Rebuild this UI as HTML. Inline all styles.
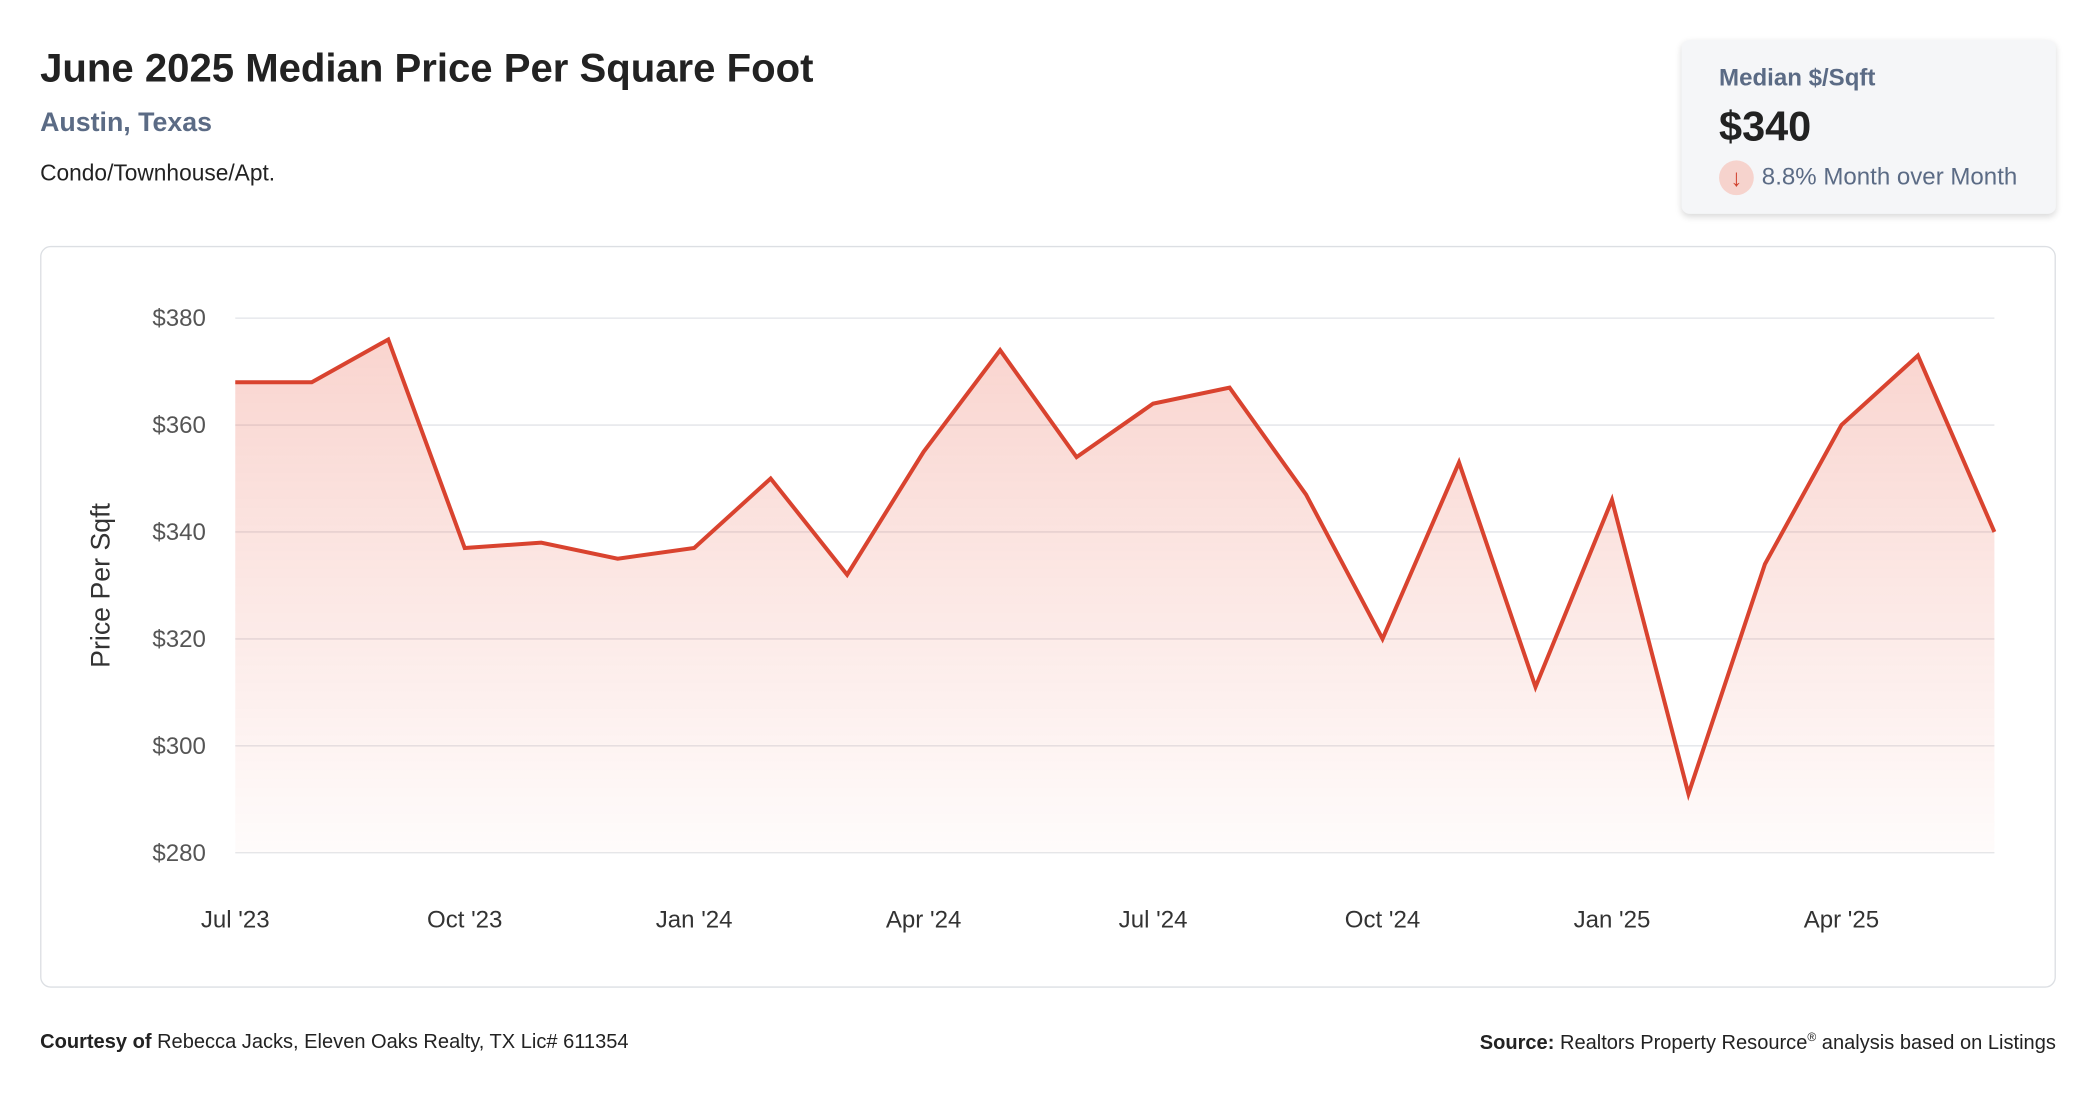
<!DOCTYPE html>
<html><head><meta charset="utf-8"><style>
html,body{margin:0;padding:0;background:#fff;width:2096px;height:1100px;overflow:hidden}
#wrap{position:absolute;left:0;top:0;width:1568px;height:823px;transform:scale(1.33673,1.3366);transform-origin:0 0;font-family:"Liberation Sans",sans-serif;color:#222}
.abs{position:absolute;white-space:nowrap}
</style></head><body>
<div id="wrap">
<div class="abs" style="left:30px;top:35px;font-size:30px;font-weight:bold;color:#222">June 2025 Median Price Per Square Foot</div>
<div class="abs" style="left:30px;top:81px;font-size:20px;font-weight:bold;color:#5b6b85">Austin, Texas</div>
<div class="abs" style="left:30px;top:120px;font-size:17px;color:#222">Condo/Townhouse/Apt.</div>
<div class="abs" style="left:1258px;top:30px;width:280px;height:130px;background:#f5f6f8;border-radius:6px;box-shadow:0 2px 5px rgba(0,0,0,0.15)">
 <div class="abs" style="left:28px;top:18px;font-size:18px;font-weight:bold;color:#5b6b85">Median $/Sqft</div>
 <div class="abs" style="left:28px;top:47px;font-size:31px;font-weight:bold;color:#222">$340</div>
 <div class="abs" style="left:28px;top:90px;width:26px;height:26px;border-radius:13px;background:#f6d3cd;color:#d0402c;font-size:18px;text-align:center;line-height:26px">↓</div>
 <div class="abs" style="left:60px;top:92px;font-size:18px;color:#5b6b85">8.8% Month over Month</div>
</div>
<div class="abs" style="left:30px;top:184px;width:1506px;height:553px;border:1px solid #dcdfe3;border-radius:8px"></div>
<svg class="abs" style="left:0;top:0" width="1568" height="823" id="svg"></svg>
<div class="abs" style="left:30px;top:771px;font-size:15px;color:#222"><b>Courtesy of</b> Rebecca Jacks, Eleven Oaks Realty, TX Lic# 611354</div>
<div class="abs" style="right:30px;top:771px;font-size:15px;color:#222"><b>Source:</b> Realtors Property Resource<sup style="font-size:9px">®</sup> analysis based on Listings</div>
</div>
<script>
const values=[368,368,376,337,338,335,337,350,332,355,374,354,364,367,347,320,353,311,346,291,334,360,373,340];
const yTicks=[280,300,320,340,360,380];
const xLabels=["Jul '23","Oct '23","Jan '24","Apr '24","Jul '24","Oct '24","Jan '25","Apr '25"];
const xLabelIdx=[0,3,6,9,12,15,18,21];
const NS="http://www.w3.org/2000/svg";
const svg=document.getElementById('svg');
const x0=176,x1=1492,yTop=238,yBot=638,vMin=280,vMax=380;
const X=i=>x0+(x1-x0)*i/(values.length-1);
const Y=v=>yBot-(v-vMin)/(vMax-vMin)*(yBot-yTop);
function mk(t,a){const e=document.createElementNS(NS,t);for(const k in a)e.setAttribute(k,a[k]);svg.appendChild(e);return e;}
const defs=mk('defs',{});
defs.innerHTML='<linearGradient id="g" x1="0" y1="0" x2="0" y2="1"><stop offset="0" stop-color="#e8553f" stop-opacity="0.25"/><stop offset="1" stop-color="#e8553f" stop-opacity="0.02"/></linearGradient>';
yTicks.forEach(v=>{
 const l=mk('line',{x1:x0,x2:x1,y1:Y(v),y2:Y(v),stroke:'#e2e4e8','stroke-width':1});
 
 const t=mk('text',{x:154,y:Y(v)+6,'text-anchor':'end','font-size':18,fill:'#555','font-family':'Liberation Sans, sans-serif'});
 t.textContent='$'+v;
 
});
xLabelIdx.forEach((idx,k)=>{
 const t=mk('text',{x:X(idx),y:694,'text-anchor':'middle','font-size':18,fill:'#333','font-family':'Liberation Sans, sans-serif'});
 t.textContent=xLabels[k];
 
});
const yt=mk('text',{x:0,y:0,transform:'translate(82,438) rotate(-90)','text-anchor':'middle','font-size':20,fill:'#333','font-family':'Liberation Sans, sans-serif'});
yt.textContent='Price Per Sqft';

let pts=values.map((v,i)=>X(i)+','+Y(v)).join(' ');
const area=mk('polygon',{points:x0+','+yBot+' '+pts+' '+x1+','+yBot,fill:'url(#g)'});

const line=mk('polyline',{points:pts,fill:'none',stroke:'#d9432f','stroke-width':3,'stroke-linejoin':'miter'});

</script>
</body></html>
